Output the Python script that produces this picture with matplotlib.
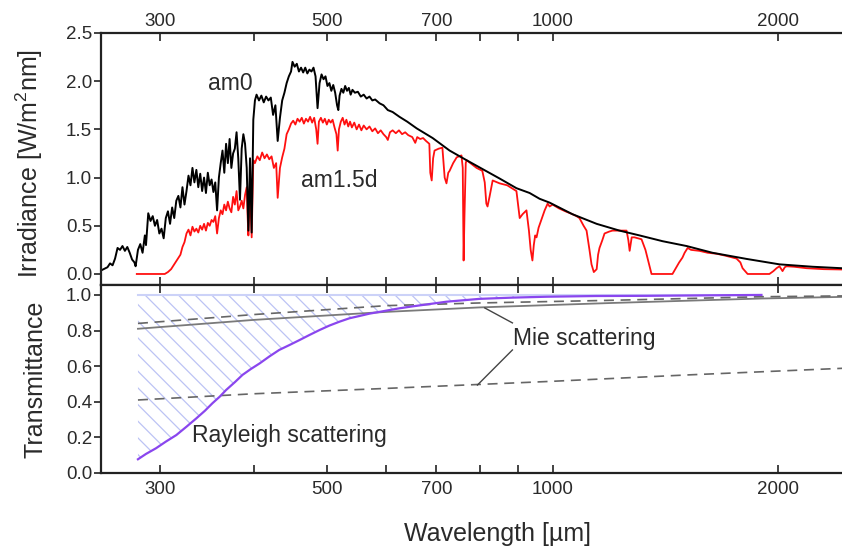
import matplotlib
matplotlib.use("Agg")
import matplotlib.pyplot as plt

plt.rcParams["font.family"] = ["Liberation Sans", "DejaVu Sans"]
plt.rcParams["mathtext.fontset"] = "custom"
plt.rcParams["mathtext.rm"] = "Liberation Sans"
plt.rcParams["mathtext.it"] = "Liberation Sans"
plt.rcParams["hatch.linewidth"] = 0.9

# --- extraterrestrial spectrum (am0) ---
am0_wl = [249, 252, 255, 257, 259, 261, 263, 265, 267, 269, 271, 273, 275, 277,
          278, 280, 282, 284, 286, 287, 289, 291, 293, 295, 297, 299, 301, 303,
          305, 307, 309, 311, 313, 315, 317, 319, 321, 323, 325, 327, 329, 331,
          333, 335, 337, 339, 341, 343, 345, 347, 349, 351, 353, 355, 357, 359,
          361, 363, 365, 367, 369, 371, 373, 375, 377, 379, 381, 383, 385, 387,
          389, 391, 393, 395, 397, 399, 401, 403, 406, 409, 412, 415, 418, 421,
          424, 427, 430, 433, 436, 439, 442, 445, 448, 450, 453, 456, 459, 462,
          465, 468, 471, 474, 477, 480, 483, 486, 489, 492, 495, 498, 501, 504,
          507, 510, 513, 516, 518, 520, 523, 526, 529, 532, 535, 538, 541, 545,
          550, 555, 560, 565, 570, 575, 580, 588, 595, 603, 612, 625, 640, 659,
          692, 729, 768, 806, 850, 895, 932, 961, 991, 1063, 1145, 1228, 1306,
          1402, 1509, 1634, 1815, 2007, 2222, 2500]
am0_irr = [0.03, 0.05, 0.07, 0.11, 0.09, 0.16, 0.27, 0.25, 0.29, 0.24, 0.28, 0.22,
           0.15, 0.12, 0.08, 0.25, 0.31, 0.22, 0.40, 0.30, 0.63, 0.55, 0.60, 0.50,
           0.56, 0.42, 0.47, 0.37, 0.58, 0.65, 0.52, 0.69, 0.58, 0.76, 0.81, 0.69,
           0.90, 0.72, 0.86, 1.02, 0.92, 1.10, 0.95, 1.08, 0.90, 1.04, 0.86, 1.00,
           0.84, 1.05, 0.92, 0.98, 0.85, 0.95, 0.66, 1.00, 1.15, 1.28, 1.05, 1.35,
           1.15, 1.40, 1.10, 1.25, 1.30, 1.47, 1.20, 0.77, 1.30, 1.45, 1.35, 1.10,
           0.45, 1.20, 0.43, 1.60, 1.80, 1.86, 1.80, 1.85, 1.78, 1.84, 1.80, 1.83,
           1.65, 1.75, 1.38, 1.62, 1.80, 1.88, 1.98, 2.05, 2.10, 2.20, 2.15, 2.18,
           2.10, 2.14, 2.09, 2.14, 2.08, 2.12, 2.10, 2.14, 2.05, 1.72, 1.98, 2.07,
           2.02, 2.05, 1.95, 1.98, 1.90, 1.96, 1.88, 1.75, 1.70, 1.85, 1.92, 1.88,
           1.95, 1.90, 1.93, 1.86, 1.91, 1.88, 1.89, 1.84, 1.86, 1.82, 1.84, 1.80,
           1.81, 1.77, 1.75, 1.70, 1.68, 1.63, 1.58, 1.51, 1.41, 1.28, 1.18, 1.09,
           0.99, 0.89, 0.84, 0.78, 0.74, 0.62, 0.52, 0.45, 0.40, 0.34, 0.29, 0.22,
           0.156, 0.10, 0.075, 0.055]

# --- direct terrestrial spectrum (am1.5d) ---
am15_wl = [279, 304, 307, 310, 313, 316, 319, 321, 323, 325, 327, 329, 331, 333,
           335, 337, 339, 341, 343, 345, 347, 349, 351, 353, 355, 357, 359, 361,
           363, 365, 367, 369, 371, 373, 375, 377, 379, 381, 383, 385, 387, 389,
           391, 392, 393, 395, 397, 399, 401, 404, 407, 410, 413, 416, 419, 422,
           425, 428, 430, 433, 436, 439, 442, 445, 448, 451, 454, 457, 460, 463,
           466, 469, 472, 475, 478, 481, 484, 486, 488, 491, 494, 497, 500, 503,
           506, 509, 512, 515, 517, 519, 522, 525, 528, 531, 534, 537, 540, 544,
           548, 552, 556, 560, 565, 570, 575, 580, 585, 590, 595, 600, 603, 607,
           612, 618, 624, 630, 636, 642, 650, 656, 660, 666, 672, 678, 685, 687,
           690, 693, 696, 705, 713, 718, 722, 726, 729, 737, 745, 756, 759, 761,
           763, 766, 768, 780, 792, 806, 812, 816, 819, 824, 832, 850, 870, 895,
           900, 904, 912, 923, 930, 935, 940, 944, 948, 952, 958, 965, 976, 985,
           991, 1000, 1020, 1040, 1063, 1076, 1086, 1100, 1110, 1120, 1127, 1135,
           1145, 1150, 1155, 1165, 1173, 1190, 1202, 1230, 1255, 1262, 1267, 1275,
           1286, 1300, 1314, 1330, 1345, 1355, 1402, 1445, 1460, 1475, 1490, 1500,
           1514, 1530, 1570, 1610, 1655, 1700, 1759, 1780, 1792, 1820, 1946, 1970,
           1989, 2007, 2026, 2040, 2051, 2100, 2181, 2300, 2500]
am15_irr = [0.0, 0.0, 0.02, 0.05, 0.10, 0.15, 0.20, 0.28, 0.33, 0.42, 0.46, 0.40,
            0.49, 0.44, 0.47, 0.43, 0.50, 0.46, 0.52, 0.45, 0.53, 0.50, 0.56, 0.54,
            0.60, 0.42, 0.58, 0.66, 0.62, 0.72, 0.66, 0.75, 0.68, 0.64, 0.80, 0.72,
            0.86, 0.66, 0.70, 0.76, 0.68, 0.82, 0.90, 0.62, 0.40, 0.85, 0.38, 1.18,
            1.15, 1.22, 1.18, 1.26, 1.20, 1.24, 1.19, 1.22, 1.10, 1.15, 0.79, 1.10,
            1.21, 1.30, 1.45, 1.50, 1.56, 1.59, 1.55, 1.61, 1.58, 1.62, 1.56, 1.61,
            1.58, 1.63, 1.57, 1.62, 1.50, 1.35, 1.58, 1.62, 1.57, 1.61, 1.55, 1.60,
            1.57, 1.60, 1.52, 1.45, 1.28, 1.50, 1.58, 1.62, 1.55, 1.60, 1.53, 1.58,
            1.52, 1.57, 1.50, 1.55, 1.49, 1.54, 1.50, 1.53, 1.48, 1.51, 1.46, 1.49,
            1.45, 1.42, 1.39, 1.47, 1.49, 1.46, 1.49, 1.45, 1.47, 1.44, 1.42, 1.36,
            1.42, 1.40, 1.41, 1.38, 1.35, 1.05, 0.97, 1.20, 1.28, 1.30, 1.31, 1.00,
            0.94, 1.05, 1.07, 1.15, 1.21, 1.23, 1.10, 0.14, 0.60, 1.15, 1.18, 1.14,
            1.10, 1.07, 0.95, 0.73, 0.70, 0.80, 0.97, 0.94, 0.92, 0.86, 0.70, 0.58,
            0.62, 0.66, 0.45, 0.25, 0.14, 0.30, 0.40, 0.38, 0.48, 0.55, 0.66, 0.73,
            0.70, 0.72, 0.68, 0.65, 0.62, 0.60, 0.58, 0.50, 0.45, 0.25, 0.10, 0.02,
            0.05, 0.20, 0.27, 0.35, 0.42, 0.44, 0.45, 0.45, 0.45, 0.35, 0.24, 0.38,
            0.38, 0.37, 0.36, 0.25, 0.10, 0.0, 0.0, 0.0, 0.06, 0.12, 0.17, 0.22,
            0.27, 0.25, 0.24, 0.22, 0.21, 0.19, 0.16, 0.12, 0.06, 0.0, 0.0, 0.03,
            0.06, 0.08, 0.03, 0.07, 0.08, 0.075, 0.06, 0.05, 0.045]

# --- transmittance curves ---
ray_wl = [280, 287, 296, 305, 315, 325, 335, 344, 352, 360, 367, 377, 386, 396,
          407, 419, 432, 446, 460, 474, 489, 504, 520, 536, 553, 570, 588, 606,
          625, 651, 722, 799, 884, 982, 1143, 1334, 1634, 1899]
ray_t = [0.077, 0.107, 0.139, 0.176, 0.213, 0.26, 0.307, 0.35, 0.392, 0.429,
         0.466, 0.51, 0.551, 0.584, 0.616, 0.654, 0.691, 0.719, 0.747, 0.775,
         0.803, 0.828, 0.85, 0.869, 0.882, 0.895, 0.905, 0.915, 0.925, 0.936,
         0.962, 0.978, 0.985, 0.99, 0.994, 0.995, 0.998, 1.0]

mie1_wl = [280, 400, 601, 799, 1202, 1899, 2500]
mie1_t = [0.81, 0.86, 0.905, 0.93, 0.955, 0.98, 0.99]

mie2_wl = [280, 400, 601, 799, 1202, 1899, 2500]
mie2_t = [0.84, 0.89, 0.94, 0.955, 0.97, 0.99, 0.995]

mie3_wl = [280, 400, 600, 1000, 1500, 2500]
mie3_t = [0.41, 0.445, 0.475, 0.515, 0.55, 0.59]

xticks = [300, 400, 500, 600, 700, 800, 900, 1000, 2000]
xtick_labels = ["300", "", "500", "", "700", "", "", "1000", "2000"]

TXT = "#2a2a2a"
SPINE = "#222222"

fig = plt.figure(figsize=(8.42, 5.51), dpi=100)
ax1 = fig.add_axes([0.12, 0.4828, 0.8907, 0.4574])
ax2 = fig.add_axes([0.12, 0.1416, 0.8907, 0.3412])

for ax in (ax1, ax2):
    ax.set_xscale("log")
    ax.set_xlim(250, 2500)
    ax.set_xticks(xticks)
    ax.set_xticklabels(xtick_labels)
    ax.xaxis.set_minor_locator(matplotlib.ticker.NullLocator())
    ax.spines["right"].set_visible(False)
    for s in ("left", "top", "bottom"):
        ax.spines[s].set_linewidth(1.6)
        ax.spines[s].set_color(SPINE)
    ax.tick_params(axis="x", which="both", direction="in", top=True, bottom=True,
                   length=6, width=1.2, color=SPINE, labelsize=13.5, labelcolor=TXT)
    ax.tick_params(axis="y", direction="out", length=5, width=1.2, color=SPINE,
                   labelsize=13.5, labelcolor=TXT, pad=1.5)

# top panel
ax1.tick_params(axis="x", labeltop=True, labelbottom=False, pad=2)
ax1.plot(am15_wl, am15_irr, color="#ff1010", lw=1.3)
ax1.plot(am0_wl, am0_irr, color="black", lw=1.4)
ax1.set_ylim(-0.114, 2.5)
ax1.set_yticks([0.0, 0.5, 1.0, 1.5, 2.0, 2.5])
ax1.set_yticklabels(["0.0", "0.5", "1.0", "1.5", "2.0", "2.5"])
ax1.set_ylabel("Irradiance [W/m$^2$nm]", fontsize=18, color=TXT)
ax1.yaxis.set_label_coords(-0.075, 0.48)
ax1.text(347, 1.98, "am0", fontsize=16.5, color=TXT, va="center")
ax1.text(462, 0.97, "am1.5d", fontsize=16.5, color=TXT, va="center")

# bottom panel
ax2.tick_params(axis="x", labeltop=False, labelbottom=True, pad=6)
ax2.fill_between(ray_wl, ray_t, 1.0, facecolor="none", edgecolor="#bcc3f4",
                 hatch="\\\\", linewidth=0)
ax2.plot([280, 1899], [1.0, 1.0], color="#ccd2f8", lw=1.5)
ax2.plot(mie1_wl, mie1_t, color="#7a7a7a", lw=1.3)
ax2.plot(mie2_wl, mie2_t, color="#666666", lw=1.2, ls=(0, (6, 4)))
ax2.plot(mie3_wl, mie3_t, color="#666666", lw=1.2, ls=(0, (6, 4)))
ax2.plot(ray_wl, ray_t, color="#8a46ee", lw=1.6)
ax2.set_ylim(0, 1.056)
ax2.set_yticks([0.0, 0.2, 0.4, 0.6, 0.8, 1.0])
ax2.set_yticklabels(["0.0", "0.2", "0.4", "0.6", "0.8", "1.0"])
ax2.set_ylabel("Transmittance", fontsize=18, color=TXT)
ax2.yaxis.set_label_coords(-0.072, 0.5)
ax2.set_xlabel("Wavelength [\u00b5m]", fontsize=18, color=TXT)
ax2.xaxis.set_label_coords(0.528, -0.26)

ax2.text(885, 0.755, "Mie scattering", fontsize=16.5, color=TXT, va="center")
ax2.plot([812, 884], [0.927, 0.843], color="#444444", lw=1.0)
ax2.plot([794, 884], [0.494, 0.691], color="#444444", lw=1.0)
ax2.text(331, 0.21, "Rayleigh scattering", fontsize=16.5, color=TXT, va="center")

fig.savefig("out.png", dpi=100)
